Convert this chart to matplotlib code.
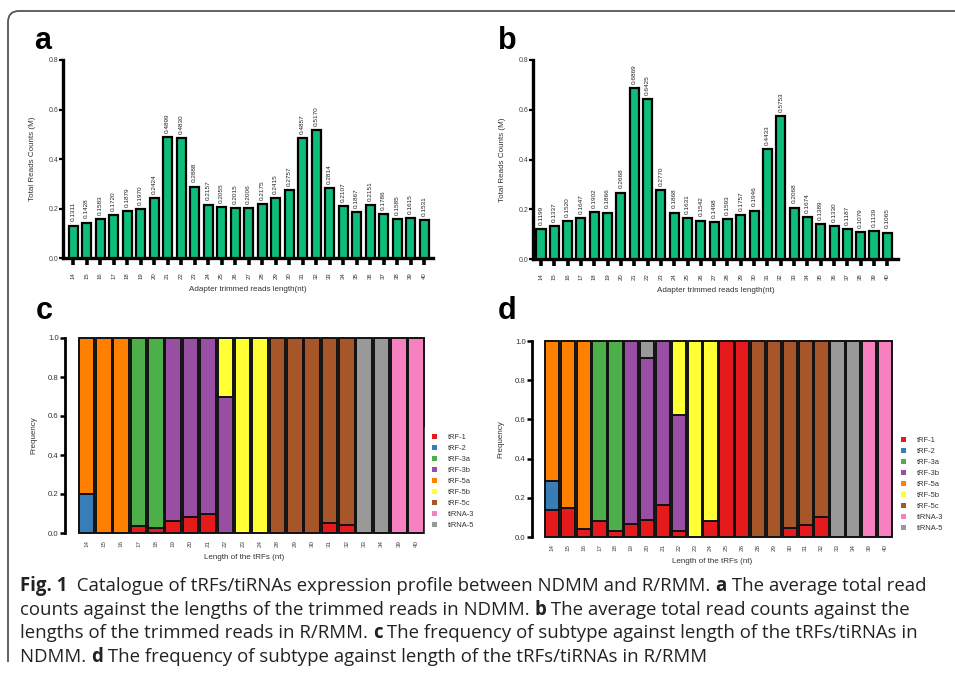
import matplotlib
matplotlib.use("Agg")
import matplotlib.pyplot as plt
from matplotlib.patches import Patch, PathPatch
from matplotlib.path import Path
import numpy as np

plt.rcParams['font.family'] = ['Liberation Sans', 'DejaVu Sans']

W, H = 955, 681

# panel a / b : average total read counts (M)
lengths_ab = list(range(14, 41))
counts_a = [0.1311, 0.1428, 0.1583, 0.1720, 0.1879, 0.1970, 0.2424, 0.4899, 0.4830,
            0.2888, 0.2157, 0.2055, 0.2015, 0.2006, 0.2175, 0.2415, 0.2757, 0.4857,
            0.5170, 0.2814, 0.2107, 0.1867, 0.2151, 0.1786, 0.1585, 0.1615, 0.1531]
counts_b = [0.1199, 0.1337, 0.1520, 0.1647, 0.1902, 0.1866, 0.2668, 0.6869, 0.6425,
            0.2770, 0.1868, 0.1631, 0.1542, 0.1498, 0.1593, 0.1757, 0.1946, 0.4433,
            0.5753, 0.2068, 0.1674, 0.1389, 0.1330, 0.1187, 0.1079, 0.1139, 0.1065]

subtypes = ["tRF-1", "tRF-2", "tRF-3a", "tRF-3b", "tRF-5a", "tRF-5b", "tRF-5c", "tiRNA-3", "tiRNA-5"]
sub_colors = ["#E41A1C", "#377EB8", "#4DAF4A", "#984EA3", "#FF7F00", "#FFFF33", "#A65628", "#F781BF", "#999999"]

# panel c : NDMM subtype frequencies
lengths_c = [14, 15, 16, 17, 18, 19, 20, 21, 22, 23, 24, 28, 29, 30, 31, 32, 33, 34, 39, 40]
freq_c = {
    "tRF-1":   [0, 0, 0, 0.035, 0.028, 0.063, 0.083, 0.10, 0, 0, 0, 0, 0, 0, 0.05, 0.04, 0, 0, 0, 0],
    "tRF-2":   [0.20, 0, 0, 0, 0, 0, 0, 0, 0, 0, 0, 0, 0, 0, 0, 0, 0, 0, 0, 0],
    "tRF-3a":  [0, 0, 0, 0.965, 0.972, 0, 0, 0, 0, 0, 0, 0, 0, 0, 0, 0, 0, 0, 0, 0],
    "tRF-3b":  [0, 0, 0, 0, 0, 0.937, 0.917, 0.90, 0.70, 0, 0, 0, 0, 0, 0, 0, 0, 0, 0, 0],
    "tRF-5a":  [0.80, 1, 1, 0, 0, 0, 0, 0, 0, 0, 0, 0, 0, 0, 0, 0, 0, 0, 0, 0],
    "tRF-5b":  [0, 0, 0, 0, 0, 0, 0, 0, 0.30, 1, 1, 0, 0, 0, 0, 0, 0, 0, 0, 0],
    "tRF-5c":  [0, 0, 0, 0, 0, 0, 0, 0, 0, 0, 0, 1, 1, 1, 0.95, 0.96, 0, 0, 0, 0],
    "tiRNA-3": [0, 0, 0, 0, 0, 0, 0, 0, 0, 0, 0, 0, 0, 0, 0, 0, 0, 0, 1, 1],
    "tiRNA-5": [0, 0, 0, 0, 0, 0, 0, 0, 0, 0, 0, 0, 0, 0, 0, 0, 1, 1, 0, 0],
}

# panel d : R/RMM subtype frequencies
lengths_d = [14, 15, 16, 17, 18, 19, 20, 21, 22, 23, 24, 25, 26, 28, 29, 30, 31, 32, 33, 34, 39, 40]
freq_d = {
    "tRF-1":   [0.14, 0.15, 0.04, 0.08, 0.03, 0.065, 0.085, 0.165, 0.03, 0, 0.08, 1, 1, 0, 0, 0.045, 0.06, 0.10, 0, 0, 0, 0],
    "tRF-2":   [0.145, 0, 0, 0, 0, 0, 0, 0, 0, 0, 0, 0, 0, 0, 0, 0, 0, 0, 0, 0, 0, 0],
    "tRF-3a":  [0, 0, 0, 0.92, 0.97, 0, 0, 0, 0, 0, 0, 0, 0, 0, 0, 0, 0, 0, 0, 0, 0, 0],
    "tRF-3b":  [0, 0, 0, 0, 0, 0.935, 0.83, 0.835, 0.59, 0, 0, 0, 0, 0, 0, 0, 0, 0, 0, 0, 0, 0],
    "tRF-5a":  [0.715, 0.85, 0.96, 0, 0, 0, 0, 0, 0, 0, 0, 0, 0, 0, 0, 0, 0, 0, 0, 0, 0, 0],
    "tRF-5b":  [0, 0, 0, 0, 0, 0, 0, 0, 0.38, 1, 0.92, 0, 0, 0, 0, 0, 0, 0, 0, 0, 0, 0],
    "tRF-5c":  [0, 0, 0, 0, 0, 0, 0, 0, 0, 0, 0, 0, 0, 1, 1, 0.955, 0.94, 0.90, 0, 0, 0, 0],
    "tiRNA-3": [0, 0, 0, 0, 0, 0, 0, 0, 0, 0, 0, 0, 0, 0, 0, 0, 0, 0, 0, 0, 1, 1],
    "tiRNA-5": [0, 0, 0, 0, 0, 0, 0.085, 0, 0, 0, 0, 0, 0, 0, 0, 0, 0, 0, 1, 1, 0, 0],
}

caption_lines = [
    [("Fig. 1", True), ("  Catalogue of tRFs/tiRNAs expression profile between NDMM and R/RMM. ", False),
     ("a", True), (" The average total read", False)],
    [("counts against the lengths of the trimmed reads in NDMM. ", False), ("b", True),
     (" The average total read counts against the", False)],
    [("lengths of the trimmed reads in R/RMM. ", False), ("c", True),
     (" The frequency of subtype against length of the tRFs/tiRNAs in", False)],
    [("NDMM. ", False), ("d", True), (" The frequency of subtype against length of the tRFs/tiRNAs in R/RMM", False)],
]

fig = plt.figure(figsize=(W / 100, H / 100), dpi=100)


def rect(left, top, right, bottom):
    return [left / W, 1 - bottom / H, (right - left) / W, (bottom - top) / H]


def count_panel(box, values, xlim, letter, letter_xy):
    ax = fig.add_axes(box)
    x = np.arange(len(values))
    ax.bar(x, values, width=0.68, color="#0CBE79", edgecolor="black", linewidth=1.6, zorder=3)
    for xi, v in zip(x, values):
        ax.annotate(f"{v:.4f}", (xi, v), xytext=(0, 3), textcoords="offset points",
                    rotation=90, ha="center", va="bottom", fontsize=4.6, color="#222")
    ax.set_xlim(*xlim)
    ax.set_ylim(0, 0.8)
    ax.set_yticks([0, 0.2, 0.4, 0.6, 0.8])
    ax.set_yticklabels(["0.0", "0.2", "0.4", "0.6", "0.8"])
    ax.set_xticks(x)
    ax.set_xticklabels([str(l) for l in lengths_ab], rotation=90)
    for s in ["top", "right"]:
        ax.spines[s].set_visible(False)
    for s in ["left", "bottom"]:
        ax.spines[s].set_linewidth(2.4)
    ax.tick_params(axis="x", length=5, width=2.6, labelsize=4.3, pad=5, colors="black", labelcolor="#333")
    ax.tick_params(axis="y", length=3, width=1.6, labelsize=5, pad=0.5, labelcolor="#444")
    ax.set_xlabel("Adapter trimmed reads length(nt)", fontsize=5.8, color="#333", labelpad=5)
    ax.set_ylabel("Total Reads Counts (M)", fontsize=5.8, color="#333", labelpad=9)
    fig.text(letter_xy[0] / W, 1 - letter_xy[1] / H, letter, fontsize=22, fontweight="bold",
             ha="left", va="center")
    return ax


def freq_panel(box, lengths, freqs, xlim, letter, letter_xy, legend_xy):
    ax = fig.add_axes(box)
    x = np.arange(len(lengths))
    bottom = np.zeros(len(lengths))
    for name, col in zip(subtypes, sub_colors):
        vals = np.array(freqs[name], dtype=float)
        lws = [1.4 if v > 0 else 0 for v in vals]
        ax.bar(x, vals, bottom=bottom, width=0.9, color=col, edgecolor="#111",
               linewidth=lws, clip_on=False, zorder=3)
        bottom += vals
    ax.set_xlim(*xlim)
    ax.set_ylim(0, 1)
    ax.set_yticks([0, 0.2, 0.4, 0.6, 0.8, 1.0])
    ax.set_yticklabels(["0.0", "0.2", "0.4", "0.6", "0.8", "1.0"])
    ax.set_xticks(x)
    ax.set_xticklabels([str(l) for l in lengths], rotation=90)
    for s in ["top", "right", "bottom"]:
        ax.spines[s].set_visible(False)
    ax.spines["left"].set_linewidth(2.0)
    ax.tick_params(axis="x", length=0, labelsize=4.5, pad=5, labelcolor="#444")
    ax.tick_params(axis="y", length=3.5, width=1.8, labelsize=5.6, pad=1, labelcolor="#333")
    ax.set_xlabel("Length of the tRFs (nt)", fontsize=5.8, color="#333", labelpad=5)
    ax.set_ylabel("Frequency", fontsize=5.8, color="#333", labelpad=8)
    handles = [Patch(facecolor=c, edgecolor="none", label=n) for n, c in zip(subtypes, sub_colors)]
    leg = fig.legend(handles=handles, loc="upper left",
                     bbox_to_anchor=(legend_xy[0] / W, 1 - legend_xy[1] / H),
                     fontsize=5.4, frameon=True, facecolor="white", edgecolor="white", framealpha=1,
                     handlelength=0.7, handleheight=0.7, handletextpad=1.5, labelspacing=0.5,
                     borderpad=0.9, borderaxespad=0, fancybox=False, labelcolor="#333")
    leg.set_zorder(5)
    fig.text(letter_xy[0] / W, 1 - letter_xy[1] / H, letter, fontsize=22, fontweight="bold",
             ha="left", va="center")
    return ax


count_panel(rect(63, 60, 433, 258), counts_a, (-0.75, 26.65), "a", (34, 41))
count_panel(rect(533, 60, 898, 259), counts_b, (-0.6, 26.8), "b", (498, 41))
freq_panel(rect(65, 338, 424, 533), lengths_c, freq_c, (-1.24, 19.45), "c", (36, 311), (425, 427))
freq_panel(rect(532, 341, 893, 537), lengths_d, freq_d, (-1.26, 21.5), "d", (498, 311), (894, 430))

# caption with mixed bold runs
renderer = fig.canvas.get_renderer()
cap_font = ["Open Sans", "DejaVu Sans"]
cap_size = 13.4


def run_width(txt, bold):
    t1 = fig.text(0, 0, "|" + txt + "|", fontsize=cap_size, family=cap_font,
                  fontweight="bold" if bold else "normal")
    t2 = fig.text(0, 0, "||", fontsize=cap_size, family=cap_font,
                  fontweight="bold" if bold else "normal")
    w = t1.get_window_extent(renderer).width - t2.get_window_extent(renderer).width
    t1.remove()
    t2.remove()
    return w


y_px = 591
for line in caption_lines:
    x_px = 20
    for txt, bold in line:
        fig.text(x_px / W, 1 - y_px / H, txt, fontsize=cap_size, family=cap_font,
                 fontweight="bold" if bold else "normal", ha="left", va="baseline", color="#222")
        x_px += run_width(txt, bold)
    y_px += 23.7

# outer frame (top and left edges, rounded corner)
verts = [(8, 662), (8, 22), (8, 11), (19, 11), (955, 11)]
verts = [(vx / W, 1 - vy / H) for vx, vy in verts]
codes = [Path.MOVETO, Path.LINETO, Path.CURVE3, Path.CURVE3, Path.LINETO]
fig.add_artist(PathPatch(Path(verts, codes), transform=fig.transFigure, fill=False,
                         edgecolor="#555555", linewidth=1.3))

fig.savefig("out.png", dpi=100)
